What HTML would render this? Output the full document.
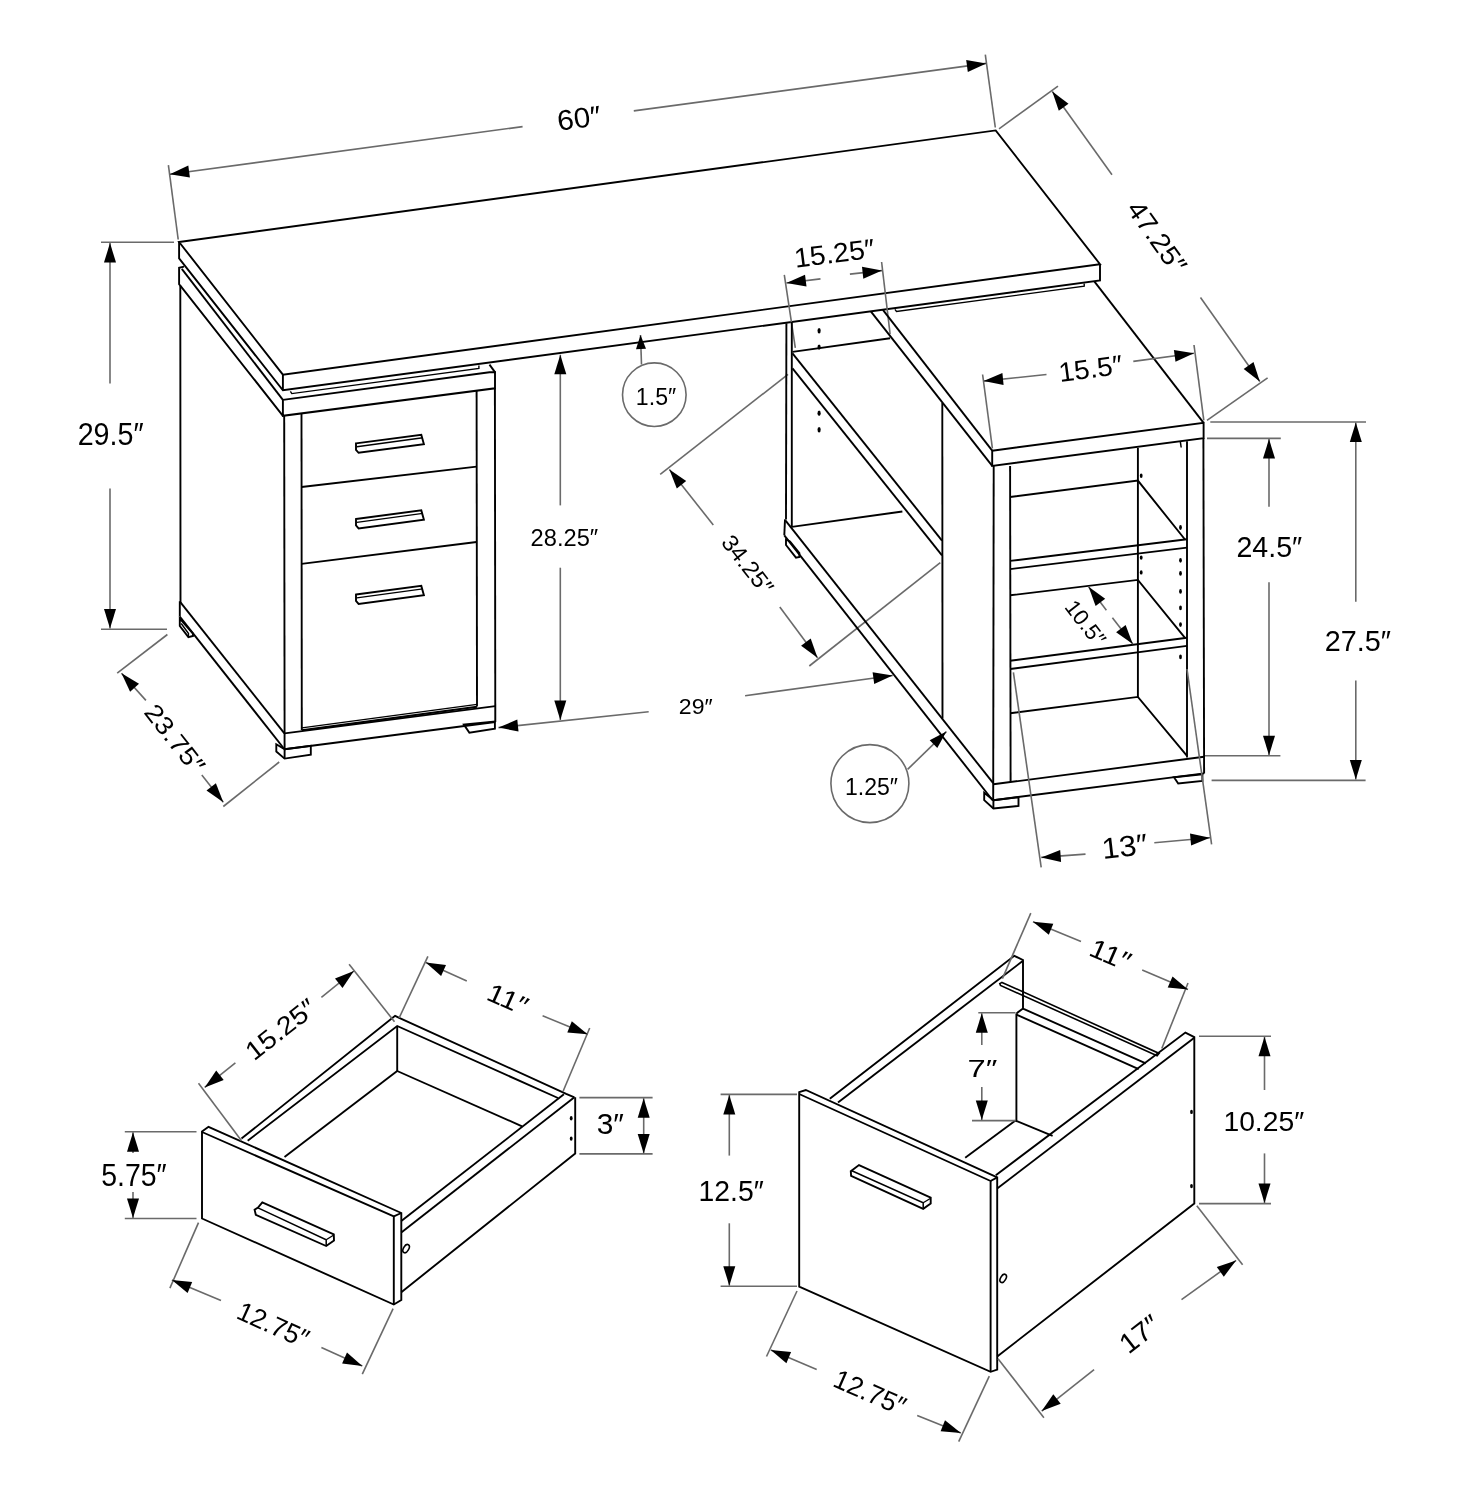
<!DOCTYPE html>
<html><head><meta charset="utf-8"><style>
html,body{margin:0;padding:0;background:#fff;overflow:hidden;}
svg{display:block;will-change:transform;}
text{font-family:"Liberation Sans",sans-serif;fill:#000;stroke:none;}
</style></head><body>
<svg width="1465" height="1500" viewBox="0 0 1465 1500" stroke-linejoin="miter" stroke-linecap="butt">
<rect width="1465" height="1500" fill="#fff"/>
<path d="M168.4 165.1 L178.2 239.5" stroke="#6a6a6a" stroke-width="1.6" fill="none"/>
<path d="M985.3 54.6 L995.3 127.5" stroke="#6a6a6a" stroke-width="1.6" fill="none"/>
<path d="M169.8 174.2 L522.6 126.6" stroke="#6a6a6a" stroke-width="1.6" fill="none"/>
<path d="M169.8 174.2 L188.3 165.6 L189.9 177.5 Z" fill="#000"/>
<path d="M986.3 63.4 L633.8 110.9" stroke="#6a6a6a" stroke-width="1.6" fill="none"/>
<path d="M986.3 63.4 L967.8 72 L966.2 60.1 Z" fill="#000"/>
<path d="M179.1 242 L995.7 130.4 L1100 264.2 L282.9 374.7Z" stroke="#000" stroke-width="1.9" fill="none"/>
<path d="M179.1 242 L179.1 258.4 L282.9 390.3 L1100 280.5 L1100 264.2" stroke="#000" stroke-width="1.9" fill="none"/>
<path d="M282.9 374.7 L282.9 390.3" stroke="#000" stroke-width="1.9" fill="none"/>
<path d="M290.4 391.4 L291.8 393.6 L478.9 368.4 L478.9 365.6" stroke="#000" stroke-width="1.4" fill="none"/>
<path d="M894.9 309.3 L896.5 311.4 L1084.2 286.2 L1084.2 283.4" stroke="#000" stroke-width="1.4" fill="none"/>
<path d="M184 266.6 L179.1 267.7 L179.1 284.1 L180.3 285.7 L282.9 415.8" stroke="#000" stroke-width="1.9" fill="none"/>
<path d="M181.8 268.8 L282.9 399.9" stroke="#000" stroke-width="1.9" fill="none"/>
<path d="M282.9 399.9 L489.5 372.3 L495 372.3 L495 388.3 L282.9 415.8Z" stroke="#000" stroke-width="1.9" fill="none"/>
<path d="M489.5 364.6 L495.3 372.6" stroke="#000" stroke-width="1.9" fill="none"/>
<path d="M180.3 285.7 L180.5 602.3 L179.8 602.3 L179.8 616.6" stroke="#000" stroke-width="1.9" fill="none"/>
<path d="M180.5 602.3 L284.4 733.4" stroke="#000" stroke-width="1.9" fill="none"/>
<path d="M179.8 616.6 L283.5 748" stroke="#000" stroke-width="1.9" fill="none"/>
<path d="M179.8 618.5 L179.8 626 L188.4 637.1 L193 635.9 L193 633.5Z" stroke="#000" stroke-width="1.9" fill="none"/>
<path d="M181.2 623.5 L188.5 633.5 L188.4 637.1" stroke="#000" stroke-width="1.4" fill="none"/>
<path d="M284.2 415.8 L284.6 749.2" stroke="#000" stroke-width="1.9" fill="none"/>
<path d="M301.5 414 L301.8 730" stroke="#000" stroke-width="1.9" fill="none"/>
<path d="M476.6 390.8 L477 706.5" stroke="#000" stroke-width="1.9" fill="none"/>
<path d="M494.9 388.3 L495.3 722" stroke="#000" stroke-width="1.9" fill="none"/>
<path d="M301.5 487 L476.6 466.6" stroke="#000" stroke-width="1.9" fill="none"/>
<path d="M301.5 563.9 L476.6 542" stroke="#000" stroke-width="1.9" fill="none"/>
<path d="M301.8 730.3 L477 706.8" stroke="#000" stroke-width="1.9" fill="none"/>
<path d="M301.8 727.8 L477 704.4" stroke="#000" stroke-width="1.2" fill="none"/>
<path d="M284.6 733.4 L495.3 706.1" stroke="#000" stroke-width="1.9" fill="none"/>
<path d="M284.6 749.2 L495.3 722" stroke="#000" stroke-width="1.9" fill="none"/>
<path d="M276.3 744.3 L284.6 749.2 L310.8 745.9 L310.8 754.7 L284.6 758.6 L276.3 751.5Z" stroke="#000" stroke-width="1.9" fill="none"/>
<path d="M284.6 749.2 L284.6 758.6" stroke="#000" stroke-width="1.9" fill="none"/>
<path d="M463.9 724.6 L469.4 732.7 L494.9 728.8 L494.9 721.5Z" stroke="#000" stroke-width="1.9" fill="none"/>
<path d="M356 443.4 L421.3 434.8 L423.9 444.2 L358.6 452.8 L356 449.9Z" stroke="#000" stroke-width="1.9" fill="none"/>
<path d="M356.8 446.8 L422.8 437.8" stroke="#000" stroke-width="1.4" fill="none"/>
<path d="M356 519 L421.3 510.4 L423.9 519.8 L358.6 528.4 L356 525.5Z" stroke="#000" stroke-width="1.9" fill="none"/>
<path d="M356.8 522.4 L422.8 513.4" stroke="#000" stroke-width="1.4" fill="none"/>
<path d="M356 594.5 L421.3 585.9 L423.9 595.3 L358.6 603.9 L356 601Z" stroke="#000" stroke-width="1.9" fill="none"/>
<path d="M356.8 597.9 L422.8 588.9" stroke="#000" stroke-width="1.4" fill="none"/>
<path d="M101 242.3 L174 242.3" stroke="#6a6a6a" stroke-width="1.6" fill="none"/>
<path d="M101 629.3 L167 629.3" stroke="#6a6a6a" stroke-width="1.6" fill="none"/>
<path d="M110 243 L110 383.4" stroke="#6a6a6a" stroke-width="1.6" fill="none"/>
<path d="M110 243 L116 262.5 L104 262.5 Z" fill="#000"/>
<path d="M110 628.5 L110 488.6" stroke="#6a6a6a" stroke-width="1.6" fill="none"/>
<path d="M110 628.5 L104 609 L116 609 Z" fill="#000"/>
<path d="M167.4 634.5 L117.2 673.2" stroke="#6a6a6a" stroke-width="1.6" fill="none"/>
<path d="M223.3 806.5 L279.2 762" stroke="#6a6a6a" stroke-width="1.6" fill="none"/>
<path d="M121.5 673.2 L145.9 700.4" stroke="#6a6a6a" stroke-width="1.6" fill="none"/>
<path d="M121.5 673.2 L139 683.7 L130.1 691.7 Z" fill="#000"/>
<path d="M223.3 802.2 L201.8 775" stroke="#6a6a6a" stroke-width="1.6" fill="none"/>
<path d="M223.3 802.2 L206.5 790.6 L215.9 783.2 Z" fill="#000"/>
<path d="M560.3 354.7 L560.3 505.4" stroke="#6a6a6a" stroke-width="1.6" fill="none"/>
<path d="M560.3 354.7 L566.3 374.2 L554.3 374.2 Z" fill="#000"/>
<path d="M560.3 720 L560.3 567.7" stroke="#6a6a6a" stroke-width="1.6" fill="none"/>
<path d="M560.3 720 L554.3 700.5 L566.3 700.5 Z" fill="#000"/>
<circle cx="654.3" cy="394.7" r="31.8" stroke="#6a6a6a" stroke-width="1.6" fill="none"/>
<path d="M640.5 335 L641.5 364.5" stroke="#6a6a6a" stroke-width="1.6" fill="none"/>
<path d="M640.5 335 L646 348.8 L636 349.2 Z" fill="#000"/>
<path d="M660.2 474.3 L788 374.3" stroke="#6a6a6a" stroke-width="1.6" fill="none"/>
<path d="M809.3 666 L940.3 562.7" stroke="#6a6a6a" stroke-width="1.6" fill="none"/>
<path d="M669.4 469.4 L713.3 525" stroke="#6a6a6a" stroke-width="1.6" fill="none"/>
<path d="M669.4 469.4 L686.2 481 L676.8 488.4 Z" fill="#000"/>
<path d="M817.5 657.8 L779.8 607" stroke="#6a6a6a" stroke-width="1.6" fill="none"/>
<path d="M817.5 657.8 L801.1 645.7 L810.7 638.6 Z" fill="#000"/>
<path d="M498.5 727.6 L648.7 711.8" stroke="#6a6a6a" stroke-width="1.6" fill="none"/>
<path d="M498.5 727.6 L517.3 719.6 L518.5 731.5 Z" fill="#000"/>
<path d="M892.7 675.5 L745.1 695.7" stroke="#6a6a6a" stroke-width="1.6" fill="none"/>
<path d="M892.7 675.5 L874.2 684.1 L872.6 672.2 Z" fill="#000"/>
<path d="M784.3 274.8 L795.3 347.8" stroke="#6a6a6a" stroke-width="1.6" fill="none"/>
<path d="M881.6 262 L890.1 334.2" stroke="#6a6a6a" stroke-width="1.6" fill="none"/>
<path d="M786.4 283 L820.5 278.9" stroke="#6a6a6a" stroke-width="1.6" fill="none"/>
<path d="M786.4 283 L805 274.7 L806.5 286.6 Z" fill="#000"/>
<path d="M882 270.6 L849.9 274.1" stroke="#6a6a6a" stroke-width="1.6" fill="none"/>
<path d="M882 270.6 L863.3 278.7 L862 266.7 Z" fill="#000"/>
<path d="M786.4 323.2 L786 519.4" stroke="#000" stroke-width="1.9" fill="none"/>
<path d="M791.8 321.9 L791.8 526.9" stroke="#000" stroke-width="1.9" fill="none"/>
<path d="M792.5 351.9 L890.1 338.3" stroke="#000" stroke-width="1.9" fill="none"/>
<ellipse cx="819.1" cy="330.8" rx="1.6" ry="2.7" fill="#000"/>
<ellipse cx="819.1" cy="347.1" rx="1.6" ry="2.7" fill="#000"/>
<ellipse cx="819.1" cy="413.3" rx="1.6" ry="2.7" fill="#000"/>
<ellipse cx="819.1" cy="429.7" rx="1.6" ry="2.7" fill="#000"/>
<path d="M792.5 353.3 L942 540.6" stroke="#000" stroke-width="1.9" fill="none"/>
<path d="M792.5 368.3 L942 555.3" stroke="#000" stroke-width="1.9" fill="none"/>
<path d="M791.8 526.9 L902.4 511.5" stroke="#000" stroke-width="1.9" fill="none"/>
<path d="M785 519.4 L784.3 535.4" stroke="#000" stroke-width="1.9" fill="none"/>
<path d="M785.4 520.4 L993.2 783.2" stroke="#000" stroke-width="1.9" fill="none"/>
<path d="M784.3 535.4 L992.8 800.5" stroke="#000" stroke-width="1.9" fill="none"/>
<path d="M786 539.5 L786 545 L796 557.6 L799.4 557 L799.4 553 L790 541.5Z" stroke="#000" stroke-width="1.9" fill="none"/>
<path d="M942.3 403 L942.5 718.6" stroke="#000" stroke-width="1.9" fill="none"/>
<path d="M882.9 309.9 L992.2 450.7" stroke="#000" stroke-width="1.9" fill="none"/>
<path d="M871 311.6 L992.2 465.9" stroke="#000" stroke-width="1.9" fill="none"/>
<path d="M1094.3 281.3 L1203.6 422.8" stroke="#000" stroke-width="1.9" fill="none"/>
<path d="M992.2 450.7 L1203.6 422.8 L1203.6 438.2 L992.2 465.9Z" stroke="#000" stroke-width="1.9" fill="none"/>
<path d="M993.7 465.9 L993.2 800.5" stroke="#000" stroke-width="1.9" fill="none"/>
<path d="M1010.1 465.9 L1010.6 782" stroke="#000" stroke-width="1.9" fill="none"/>
<path d="M1203.4 438.2 L1204.1 773.4" stroke="#000" stroke-width="1.9" fill="none"/>
<path d="M1187 441.3 L1187 757.5" stroke="#000" stroke-width="1.9" fill="none"/>
<path d="M1137.9 447.9 L1137.9 696.9" stroke="#000" stroke-width="1.9" fill="none"/>
<path d="M1010.1 497 L1137.9 480.6 L1185 539.5" stroke="#000" stroke-width="1.9" fill="none"/>
<path d="M1010.1 560.9 L1187 539.3" stroke="#000" stroke-width="1.9" fill="none"/>
<path d="M1010.1 569.1 L1187 547.6" stroke="#000" stroke-width="1.9" fill="none"/>
<path d="M1010.1 595.3 L1137.9 579.9 L1185 637.9" stroke="#000" stroke-width="1.9" fill="none"/>
<path d="M1010.1 660.8 L1187 637.7" stroke="#000" stroke-width="1.9" fill="none"/>
<path d="M1010.1 669 L1187 645.9" stroke="#000" stroke-width="1.9" fill="none"/>
<path d="M1010.1 713.3 L1137.9 696.9 L1187 755.8" stroke="#000" stroke-width="1.9" fill="none"/>
<path d="M993.4 784.3 L1204.1 756.7" stroke="#000" stroke-width="1.9" fill="none"/>
<path d="M993.4 800.2 L1204.1 773.4" stroke="#000" stroke-width="1.9" fill="none"/>
<path d="M984.2 792.7 L993.4 800.2 L1018.5 797.2 L1018.5 806 L993.4 808.5 L984.2 800.2Z" stroke="#000" stroke-width="1.9" fill="none"/>
<path d="M993.4 800.2 L993.4 808.5" stroke="#000" stroke-width="1.9" fill="none"/>
<path d="M1174 777.2 L1178.2 783.5 L1202.4 781 L1202.4 774.3Z" stroke="#000" stroke-width="1.9" fill="none"/>
<ellipse cx="1180.5" cy="527.5" rx="1.4" ry="2.4" fill="#000"/>
<ellipse cx="1180.5" cy="560.3" rx="1.4" ry="2.4" fill="#000"/>
<ellipse cx="1180.5" cy="573.4" rx="1.4" ry="2.4" fill="#000"/>
<ellipse cx="1180.5" cy="591.4" rx="1.4" ry="2.4" fill="#000"/>
<ellipse cx="1180.5" cy="607.9" rx="1.4" ry="2.4" fill="#000"/>
<ellipse cx="1180.5" cy="624.6" rx="1.4" ry="2.4" fill="#000"/>
<ellipse cx="1180.5" cy="656.9" rx="1.4" ry="2.4" fill="#000"/>
<ellipse cx="1141.2" cy="475.7" rx="1.4" ry="2.2" fill="#000"/>
<ellipse cx="1141.2" cy="557.6" rx="1.4" ry="2.2" fill="#000"/>
<ellipse cx="1141.2" cy="572.4" rx="1.4" ry="2.2" fill="#000"/>
<path d="M1180.3 441.5 L1181.2 447.5" stroke="#000" stroke-width="1.5" fill="none"/>
<path d="M999 128.8 L1058 86.2" stroke="#6a6a6a" stroke-width="1.6" fill="none"/>
<path d="M1267.6 377.8 L1207 420.4" stroke="#6a6a6a" stroke-width="1.6" fill="none"/>
<path d="M1052.3 91.5 L1112 174.7" stroke="#6a6a6a" stroke-width="1.6" fill="none"/>
<path d="M1052.3 91.5 L1068.5 103.8 L1058.8 110.8 Z" fill="#000"/>
<path d="M1259.8 381.5 L1200.5 297.5" stroke="#6a6a6a" stroke-width="1.6" fill="none"/>
<path d="M1259.8 381.5 L1243.7 369 L1253.5 362.1 Z" fill="#000"/>
<path d="M982.6 374.5 L992.4 448.3" stroke="#6a6a6a" stroke-width="1.6" fill="none"/>
<path d="M1194 345 L1203.8 420.4" stroke="#6a6a6a" stroke-width="1.6" fill="none"/>
<path d="M983.6 381.1 L1046.5 374.5" stroke="#6a6a6a" stroke-width="1.6" fill="none"/>
<path d="M983.6 381.1 L1002.4 373.1 L1003.6 385 Z" fill="#000"/>
<path d="M1194 353.2 L1133.3 361.4" stroke="#6a6a6a" stroke-width="1.6" fill="none"/>
<path d="M1194 353.2 L1175.5 361.8 L1173.9 349.9 Z" fill="#000"/>
<path d="M1210.3 422 L1366 422" stroke="#6a6a6a" stroke-width="1.6" fill="none"/>
<path d="M1211.6 780.4 L1365.6 780.4" stroke="#6a6a6a" stroke-width="1.6" fill="none"/>
<path d="M1355.8 422.5 L1355.8 601.8" stroke="#6a6a6a" stroke-width="1.6" fill="none"/>
<path d="M1355.8 422.5 L1361.8 442 L1349.8 442 Z" fill="#000"/>
<path d="M1355.8 779.5 L1355.8 680.5" stroke="#6a6a6a" stroke-width="1.6" fill="none"/>
<path d="M1355.8 779.5 L1349.8 760 L1361.8 760 Z" fill="#000"/>
<path d="M1207 438.4 L1280.8 438.4" stroke="#6a6a6a" stroke-width="1.6" fill="none"/>
<path d="M1205 755.8 L1280.4 755.8" stroke="#6a6a6a" stroke-width="1.6" fill="none"/>
<path d="M1269 439 L1269 506.8" stroke="#6a6a6a" stroke-width="1.6" fill="none"/>
<path d="M1269 439 L1275 458.5 L1263 458.5 Z" fill="#000"/>
<path d="M1269 755.3 L1269 582.2" stroke="#6a6a6a" stroke-width="1.6" fill="none"/>
<path d="M1269 755.3 L1263 735.8 L1275 735.8 Z" fill="#000"/>
<path d="M1088.6 586.8 L1106.4 610.3" stroke="#6a6a6a" stroke-width="1.6" fill="none"/>
<path d="M1088.6 586.8 L1105.2 598.7 L1095.6 606 Z" fill="#000"/>
<path d="M1132.8 644.1 L1112.4 617.7" stroke="#6a6a6a" stroke-width="1.6" fill="none"/>
<path d="M1132.8 644.1 L1116.1 632.3 L1125.6 625 Z" fill="#000"/>
<path d="M1013.4 672.3 L1041.2 867.3" stroke="#6a6a6a" stroke-width="1.6" fill="none"/>
<path d="M1187 669 L1211.6 844.3" stroke="#6a6a6a" stroke-width="1.6" fill="none"/>
<path d="M1041.2 857.4 L1085.5 854.1" stroke="#6a6a6a" stroke-width="1.6" fill="none"/>
<path d="M1041.2 857.4 L1060.2 850 L1061.1 861.9 Z" fill="#000"/>
<path d="M1210 837.8 L1154.3 842.7" stroke="#6a6a6a" stroke-width="1.6" fill="none"/>
<path d="M1210 837.8 L1191.1 845.5 L1190 833.5 Z" fill="#000"/>
<circle cx="869.9" cy="783.6" r="39" stroke="#6a6a6a" stroke-width="1.6" fill="none"/>
<path d="M946.4 731.6 L907.6 769.4" stroke="#6a6a6a" stroke-width="1.6" fill="none"/>
<path d="M946.4 731.6 L937.3 748.1 L929.7 740.2 Z" fill="#000"/>
<path d="M202 1131.5 L208.5 1126.8 L401.3 1213 L401.3 1300 L393.8 1304.5 L202 1218.5Z" stroke="#000" stroke-width="1.9" fill="none"/>
<path d="M202 1132 L393.8 1216.4 L393.8 1304.5" stroke="#000" stroke-width="1.9" fill="none"/>
<path d="M393.8 1216.4 L401.3 1213" stroke="#000" stroke-width="1.9" fill="none"/>
<path d="M241.5 1138.6 L395.1 1015.8 L399.2 1017.8 L566.2 1093.8 L574.4 1097.3" stroke="#000" stroke-width="1.9" fill="none"/>
<path d="M247.7 1140.7 L397.2 1026 L558 1098" stroke="#000" stroke-width="1.9" fill="none"/>
<path d="M397.2 1026 L397.2 1071" stroke="#000" stroke-width="1.9" fill="none"/>
<path d="M397.2 1071 L522.1 1126.3" stroke="#000" stroke-width="1.9" fill="none"/>
<path d="M397.2 1071 L284.5 1157" stroke="#000" stroke-width="1.9" fill="none"/>
<path d="M574.4 1097.3 L401.3 1232.4" stroke="#000" stroke-width="1.9" fill="none"/>
<path d="M563.9 1094.3 L401.3 1221.1" stroke="#000" stroke-width="1.9" fill="none"/>
<path d="M575.2 1097.3 L575.2 1153.6 L401.3 1292.2" stroke="#000" stroke-width="1.9" fill="none"/>
<ellipse cx="571.2" cy="1118.2" rx="1.4" ry="2.2" fill="#000"/>
<ellipse cx="571.2" cy="1138.6" rx="1.4" ry="2.2" fill="#000"/>
<ellipse transform="translate(406.1 1248.6) rotate(30)" rx="2.6" ry="4.5" stroke="#000" stroke-width="1.6" fill="none"/>
<path d="M262.3 1202.4 L333.8 1234.3 L334 1240.5 L326.2 1246 L255.8 1214.8 L254.6 1209.8 L258 1207.6Z" stroke="#000" stroke-width="1.9" fill="none"/>
<path d="M258 1207.9 L326.2 1239.8 L326.2 1246" stroke="#000" stroke-width="1.5" fill="none"/>
<path d="M326.2 1239.8 L333.8 1235" stroke="#000" stroke-width="1.3" fill="none"/>
<path d="M349.1 964.3 L394.5 1021.7" stroke="#6a6a6a" stroke-width="1.6" fill="none"/>
<path d="M198.5 1083.3 L241.5 1140.7" stroke="#6a6a6a" stroke-width="1.6" fill="none"/>
<path d="M353.9 971 L321.4 997.3" stroke="#6a6a6a" stroke-width="1.6" fill="none"/>
<path d="M353.9 971 L342.5 987.9 L335 978.6 Z" fill="#000"/>
<path d="M204.7 1087.4 L235.4 1062.9" stroke="#6a6a6a" stroke-width="1.6" fill="none"/>
<path d="M204.7 1087.4 L216.2 1070.5 L223.7 1079.9 Z" fill="#000"/>
<path d="M427.9 956.4 L399.2 1017.8" stroke="#6a6a6a" stroke-width="1.6" fill="none"/>
<path d="M589.7 1028 L563 1091.5" stroke="#6a6a6a" stroke-width="1.6" fill="none"/>
<path d="M425.8 962.5 L466.8 981" stroke="#6a6a6a" stroke-width="1.6" fill="none"/>
<path d="M425.8 962.5 L446 965.1 L441.1 976 Z" fill="#000"/>
<path d="M587.6 1034.2 L542.6 1015.8" stroke="#6a6a6a" stroke-width="1.6" fill="none"/>
<path d="M587.6 1034.2 L567.3 1032.4 L571.8 1021.3 Z" fill="#000"/>
<path d="M579.4 1097.6 L652.6 1097.6" stroke="#6a6a6a" stroke-width="1.6" fill="none"/>
<path d="M579.4 1153.9 L652.6 1153.9" stroke="#6a6a6a" stroke-width="1.6" fill="none"/>
<path d="M643.7 1098.2 L643.7 1125" stroke="#6a6a6a" stroke-width="1.6" fill="none"/>
<path d="M643.7 1098.2 L649.7 1117.7 L637.7 1117.7 Z" fill="#000"/>
<path d="M643.7 1153.4 L643.7 1125" stroke="#6a6a6a" stroke-width="1.6" fill="none"/>
<path d="M643.7 1153.4 L637.7 1133.9 L649.7 1133.9 Z" fill="#000"/>
<path d="M124.8 1131.7 L196.5 1131.7" stroke="#6a6a6a" stroke-width="1.6" fill="none"/>
<path d="M124.8 1218.5 L196.5 1218.5" stroke="#6a6a6a" stroke-width="1.6" fill="none"/>
<path d="M133 1132.2 L133 1153" stroke="#6a6a6a" stroke-width="1.6" fill="none"/>
<path d="M133 1132.2 L139 1151.7 L127 1151.7 Z" fill="#000"/>
<path d="M133 1218 L133 1192" stroke="#6a6a6a" stroke-width="1.6" fill="none"/>
<path d="M133 1218 L127 1198.5 L139 1198.5 Z" fill="#000"/>
<path d="M198.5 1222.6 L169.9 1288.1" stroke="#6a6a6a" stroke-width="1.6" fill="none"/>
<path d="M393.1 1308.6 L362.3 1374.1" stroke="#6a6a6a" stroke-width="1.6" fill="none"/>
<path d="M171.9 1279.9 L221 1300.4" stroke="#6a6a6a" stroke-width="1.6" fill="none"/>
<path d="M171.9 1279.9 L192.2 1281.9 L187.6 1292.9 Z" fill="#000"/>
<path d="M362.3 1365.9 L321.4 1347.5" stroke="#6a6a6a" stroke-width="1.6" fill="none"/>
<path d="M362.3 1365.9 L342.1 1363.4 L347 1352.4 Z" fill="#000"/>
<path d="M799.2 1092.2 L805.8 1090 L997.2 1177.4 L997.2 1369.6 L990.6 1371.8 L799.2 1286.6Z" stroke="#000" stroke-width="1.9" fill="none"/>
<path d="M799.2 1094 L990.6 1181 L990.6 1371.8" stroke="#000" stroke-width="1.9" fill="none"/>
<path d="M990.6 1181 L997.2 1177.4" stroke="#000" stroke-width="1.9" fill="none"/>
<path d="M829.8 1098.8 L1014.3 955.8 L1023 960 L1023 1008.6 L1145.8 1063.4" stroke="#000" stroke-width="1.9" fill="none"/>
<path d="M838 1102.5 L1023 960.8" stroke="#000" stroke-width="1.9" fill="none"/>
<path d="M1002 982.4 L1159.1 1053.4 L1157.1 1055.8 L1000.5 985.5 L999.8 983.6Z" stroke="#000" stroke-width="1.6" fill="none"/>
<path d="M1016.4 1013.5 L1023 1008.6" stroke="#000" stroke-width="1.9" fill="none"/>
<path d="M1016.4 1014.6 L1138.7 1069.1" stroke="#000" stroke-width="1.9" fill="none"/>
<path d="M1016.4 1013.5 L1016.4 1120.6" stroke="#000" stroke-width="1.9" fill="none"/>
<path d="M1015.5 1120.6 L1052.6 1135.9" stroke="#000" stroke-width="1.9" fill="none"/>
<path d="M1015.5 1120.6 L965.2 1157.8" stroke="#000" stroke-width="1.9" fill="none"/>
<path d="M995.8 1175.2 L1185.4 1032.6 L1194.3 1037.1 L1194.3 1203.6 L997.2 1356.5" stroke="#000" stroke-width="1.9" fill="none"/>
<path d="M997.2 1188.5 L1194.3 1037.7" stroke="#000" stroke-width="1.9" fill="none"/>
<ellipse cx="1191.5" cy="1111.9" rx="1.4" ry="2.2" fill="#000"/>
<ellipse cx="1191.5" cy="1186.1" rx="1.4" ry="2.2" fill="#000"/>
<ellipse transform="translate(1003.2 1278.4) rotate(30)" rx="2.6" ry="4.5" stroke="#000" stroke-width="1.6" fill="none"/>
<path d="M859 1165.1 L930.7 1197.7 L930.7 1203.4 L923.2 1208.8 L851.1 1175.8 L850.8 1171.2Z" stroke="#000" stroke-width="1.9" fill="none"/>
<path d="M851.8 1170.8 L923.2 1202.7 L923.2 1208.8" stroke="#000" stroke-width="1.5" fill="none"/>
<path d="M923.2 1202.7 L930.7 1198.2" stroke="#000" stroke-width="1.3" fill="none"/>
<path d="M1030.8 913.1 L1002.4 978.6" stroke="#6a6a6a" stroke-width="1.6" fill="none"/>
<path d="M1188 983 L1161.8 1048.5" stroke="#6a6a6a" stroke-width="1.6" fill="none"/>
<path d="M1033 921.8 L1081 941.5" stroke="#6a6a6a" stroke-width="1.6" fill="none"/>
<path d="M1033 921.8 L1053.3 923.7 L1048.8 934.8 Z" fill="#000"/>
<path d="M1188 989.6 L1142.2 969.9" stroke="#6a6a6a" stroke-width="1.6" fill="none"/>
<path d="M1188 989.6 L1167.7 987.4 L1172.5 976.4 Z" fill="#000"/>
<path d="M978.3 1012.7 L1015.5 1012.7" stroke="#6a6a6a" stroke-width="1.6" fill="none"/>
<path d="M972 1120.6 L1015.5 1120.6" stroke="#6a6a6a" stroke-width="1.6" fill="none"/>
<path d="M981.8 1013.2 L981.8 1045" stroke="#6a6a6a" stroke-width="1.6" fill="none"/>
<path d="M981.8 1013.2 L987.8 1032.7 L975.8 1032.7 Z" fill="#000"/>
<path d="M981.8 1120 L981.8 1087" stroke="#6a6a6a" stroke-width="1.6" fill="none"/>
<path d="M981.8 1120 L975.8 1100.5 L987.8 1100.5 Z" fill="#000"/>
<path d="M1199 1036.3 L1271 1036.3" stroke="#6a6a6a" stroke-width="1.6" fill="none"/>
<path d="M1199 1203.6 L1271 1203.6" stroke="#6a6a6a" stroke-width="1.6" fill="none"/>
<path d="M1264.5 1036.8 L1264.5 1090" stroke="#6a6a6a" stroke-width="1.6" fill="none"/>
<path d="M1264.5 1036.8 L1270.5 1056.3 L1258.5 1056.3 Z" fill="#000"/>
<path d="M1264.5 1203 L1264.5 1153.4" stroke="#6a6a6a" stroke-width="1.6" fill="none"/>
<path d="M1264.5 1203 L1258.5 1183.5 L1270.5 1183.5 Z" fill="#000"/>
<path d="M720.6 1094.4 L797 1094.4" stroke="#6a6a6a" stroke-width="1.6" fill="none"/>
<path d="M720.6 1286.2 L797 1286.2" stroke="#6a6a6a" stroke-width="1.6" fill="none"/>
<path d="M729.3 1095 L729.3 1155.6" stroke="#6a6a6a" stroke-width="1.6" fill="none"/>
<path d="M729.3 1095 L735.3 1114.5 L723.3 1114.5 Z" fill="#000"/>
<path d="M729.3 1285.7 L729.3 1223.3" stroke="#6a6a6a" stroke-width="1.6" fill="none"/>
<path d="M729.3 1285.7 L723.3 1266.2 L735.3 1266.2 Z" fill="#000"/>
<path d="M797 1291 L766.5 1356.5" stroke="#6a6a6a" stroke-width="1.6" fill="none"/>
<path d="M989.3 1376.2 L958.7 1441.7" stroke="#6a6a6a" stroke-width="1.6" fill="none"/>
<path d="M770.8 1350 L816.7 1369.6" stroke="#6a6a6a" stroke-width="1.6" fill="none"/>
<path d="M770.8 1350 L791.1 1352.1 L786.4 1363.2 Z" fill="#000"/>
<path d="M960.9 1433 L917.2 1415.5" stroke="#6a6a6a" stroke-width="1.6" fill="none"/>
<path d="M960.9 1433 L940.6 1431.3 L945 1420.2 Z" fill="#000"/>
<path d="M1196.8 1205.8 L1242.6 1264.8" stroke="#6a6a6a" stroke-width="1.6" fill="none"/>
<path d="M998 1358.7 L1043.9 1417.7" stroke="#6a6a6a" stroke-width="1.6" fill="none"/>
<path d="M1236.1 1260.4 L1181.5 1299.7" stroke="#6a6a6a" stroke-width="1.6" fill="none"/>
<path d="M1236.1 1260.4 L1223.8 1276.7 L1216.8 1266.9 Z" fill="#000"/>
<path d="M1041.7 1411.1 L1094.1 1369.6" stroke="#6a6a6a" stroke-width="1.6" fill="none"/>
<path d="M1041.7 1411.1 L1053.3 1394.3 L1060.7 1403.7 Z" fill="#000"/>
<text transform="translate(578.5 117.7) rotate(-7.6)" x="-21.53" y="10.32" font-size="28.38" textLength="43.69" lengthAdjust="spacingAndGlyphs">60″</text>
<text transform="translate(834.5 252.8) rotate(-7.4)" x="-40.65" y="9.90" font-size="27.34" textLength="80.95" lengthAdjust="spacingAndGlyphs">15.25″</text>
<text transform="translate(110.4 434.7) rotate(0)" x="-32.76" y="10.60" font-size="30.97" textLength="65.93" lengthAdjust="spacingAndGlyphs">29.5″</text>
<text transform="translate(564.1 536.7) rotate(0)" x="-33.49" y="8.80" font-size="23.06" textLength="67.58" lengthAdjust="spacingAndGlyphs">28.25″</text>
<text transform="translate(656 395.4) rotate(0)" x="-20.17" y="9.10" font-size="23.06" textLength="40.33" lengthAdjust="spacingAndGlyphs">1.5″</text>
<text transform="translate(747.2 564.3) rotate(51.8)" x="-33.73" y="7.85" font-size="22.98" textLength="68.26" lengthAdjust="spacingAndGlyphs">34.25″</text>
<text transform="translate(695.7 705.4) rotate(0)" x="-16.83" y="8.95" font-size="22.76" textLength="33.85" lengthAdjust="spacingAndGlyphs">29″</text>
<text transform="translate(1156.4 236.4) rotate(54.5)" x="-40.22" y="9.09" font-size="26.91" textLength="81.97" lengthAdjust="spacingAndGlyphs">47.25″</text>
<text transform="translate(1090.7 368) rotate(-7.5)" x="-32.38" y="9.79" font-size="27.13" textLength="64.20" lengthAdjust="spacingAndGlyphs">15.5″</text>
<text transform="translate(1269.4 546.8) rotate(0)" x="-32.94" y="10.60" font-size="29.31" textLength="65.69" lengthAdjust="spacingAndGlyphs">24.5″</text>
<text transform="translate(1357.6 640.8) rotate(0)" x="-32.76" y="10.60" font-size="29.31" textLength="66.13" lengthAdjust="spacingAndGlyphs">27.5″</text>
<text transform="translate(1085.3 623) rotate(52.3)" x="-25.74" y="7.34" font-size="21.80" textLength="51.49" lengthAdjust="spacingAndGlyphs">10.5″</text>
<text transform="translate(1124.8 845.7) rotate(-6.6)" x="-23.14" y="10.72" font-size="29.28" textLength="45.75" lengthAdjust="spacingAndGlyphs">13″</text>
<text transform="translate(871.7 785.3) rotate(0)" x="-26.71" y="9.60" font-size="24.54" textLength="53.01" lengthAdjust="spacingAndGlyphs">1.25″</text>
<text transform="translate(174.5 738.5) rotate(51.7)" x="-39.80" y="8.55" font-size="25.11" textLength="80.38" lengthAdjust="spacingAndGlyphs">23.75″</text>
<text transform="translate(280.6 1028.5) rotate(-37.9)" x="-41.29" y="9.67" font-size="26.06" textLength="81.76" lengthAdjust="spacingAndGlyphs">15.25″</text>
<text transform="translate(507.8 999.1) rotate(23.9)" x="-21.00" y="9.11" font-size="26.11" textLength="41.85" lengthAdjust="spacingAndGlyphs">11″</text>
<text transform="translate(610.1 1123.8) rotate(0)" x="-13.39" y="10.40" font-size="29.10" textLength="27.17" lengthAdjust="spacingAndGlyphs">3″</text>
<text transform="translate(133.6 1174.4) rotate(0)" x="-32.47" y="11.30" font-size="30.77" textLength="65.53" lengthAdjust="spacingAndGlyphs">5.75″</text>
<text transform="translate(273.3 1324.6) rotate(24.3)" x="-37.85" y="9.45" font-size="26.80" textLength="75.52" lengthAdjust="spacingAndGlyphs">12.75″</text>
<text transform="translate(1110.4 954.5) rotate(23.6)" x="-20.93" y="9.30" font-size="26.63" textLength="41.94" lengthAdjust="spacingAndGlyphs">11″</text>
<text transform="translate(982.5 1068) rotate(0)" x="-14.92" y="8.90" font-size="24.45" textLength="29.84" lengthAdjust="spacingAndGlyphs">7″</text>
<text transform="translate(1264.2 1120.7) rotate(0)" x="-40.80" y="10.25" font-size="28.22" textLength="80.79" lengthAdjust="spacingAndGlyphs">10.25″</text>
<text transform="translate(731.5 1190) rotate(0)" x="-33.03" y="10.55" font-size="30.17" textLength="65.26" lengthAdjust="spacingAndGlyphs">12.5″</text>
<text transform="translate(870 1392.3) rotate(23.6)" x="-37.93" y="9.51" font-size="26.95" textLength="75.69" lengthAdjust="spacingAndGlyphs">12.75″</text>
<text transform="translate(1139.4 1333.2) rotate(-37.8)" x="-21.88" y="10.22" font-size="27.87" textLength="42.99" lengthAdjust="spacingAndGlyphs">17″</text>
</svg>
</body></html>
